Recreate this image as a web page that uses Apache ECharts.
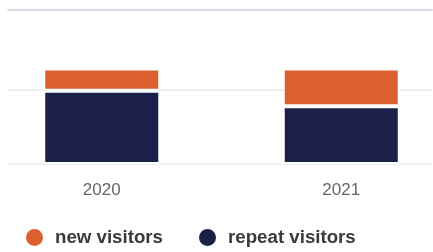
<!DOCTYPE html>
<html>
<head>
<meta charset="utf-8">
<script src="https://cdn.jsdelivr.net/npm/echarts@6/dist/echarts.min.js"></script>
<style>
  html, body { margin: 0; padding: 0; background: #fff; }
  #chart { width: 433px; height: 252px; }
</style>
</head>
<body>
<div id="chart"></div>
<script>
// years on the x axis
const years = ['2020', '2021'];
// stacked values (repeat at the bottom, new on top)
const repeatVisitors = [99, 78];
const newVisitors = [30, 51];
const seriesNames = ['new visitors', 'repeat visitors'];

const myChart = echarts.init(document.getElementById('chart'), null, { renderer: 'canvas' });

const font = 'Liberation Sans, Arial, sans-serif';

const option = {
    animation: false,
    backgroundColor: '#fff',
    grid: [
        // bars: wider than the canvas so the two categories sit where they do
        { left: -18, right: -28, top: 10, bottom: 88, outerBoundsMode: 'none', containLabel: false },
        // gridlines + baseline
        { left: 8, right: 1, top: 10, bottom: 88, outerBoundsMode: 'none' }
    ],
    legend: {
        data: seriesNames,
        left: 19,
        top: 222,
        icon: 'circle',
        itemWidth: 19,
        itemHeight: 19,
        itemGap: 34,
        textStyle: {
            color: '#3a3a3a',
            fontSize: 18.7,
            fontWeight: 'bold',
            fontFamily: font,
            padding: [0, 0, 0, 6]
        }
    },
    xAxis: [
        {
            type: 'category',
            gridIndex: 0,
            data: years,
            axisTick: { show: false },
            axisLine: { show: false },
            axisLabel: { color: '#666', fontSize: 17, margin: 18, fontFamily: font }
        },
        {
            type: 'value',
            gridIndex: 1,
            min: 0,
            max: 1,
            z: 5,
            splitLine: { show: false },
            axisTick: { show: false },
            axisLabel: { show: false },
            axisLine: { show: true, lineStyle: { color: '#d8dbe8', width: 2 } }
        }
    ],
    yAxis: [
        { type: 'value', gridIndex: 0, min: 0, max: 208, show: false },
        {
            type: 'value', gridIndex: 1, inverse: true, min: 0, max: 154, interval: 80,
            axisLabel: { show: false },
            axisLine: { show: false },
            axisTick: { show: false },
            splitLine: { show: true, lineStyle: { color: '#eeeeee', width: 2 } }
        }
    ],
    series: [
        {
            name: 'repeat visitors',
            type: 'bar',
            stack: 'visitors',
            barWidth: 117,
            z: 3,
            itemStyle: { color: '#1a2049', borderColor: '#fff', borderWidth: 2 },
            data: repeatVisitors
        },
        {
            name: 'new visitors',
            type: 'bar',
            stack: 'visitors',
            barWidth: 117,
            z: 3,
            itemStyle: { color: '#dc602f', borderColor: '#fff', borderWidth: 2 },
            data: newVisitors
        }
    ]
};

myChart.setOption(option);
</script>
</body>
</html>
